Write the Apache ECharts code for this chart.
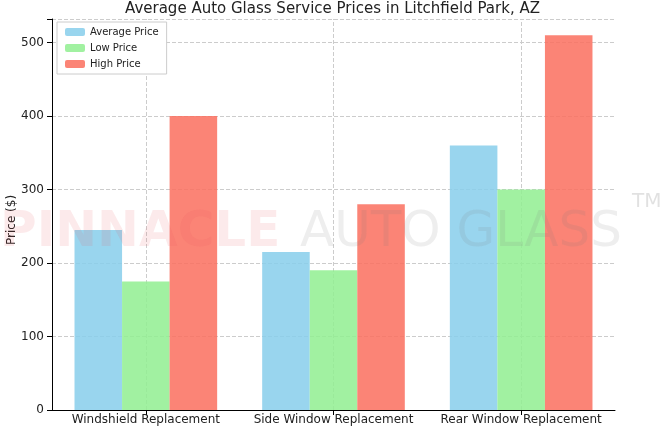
<!DOCTYPE html>
<html><head><meta charset="utf-8">
<script src="https://cdn.jsdelivr.net/npm/echarts@6/dist/echarts.min.js"></script>
<style>html,body{margin:0;padding:0;background:#fff}#c{width:665px;height:426px}</style>
</head><body><div id="c"></div>
<script>
// 各服务类别及三组价格
const categories = ['Windshield Replacement', 'Side Window Replacement', 'Rear Window Replacement'];
const avgPrice = [245, 215, 360];
const lowPrice = [175, 190, 300];
const highPrice = [400, 280, 510];
const yTicks = [0, 100, 200, 300, 400, 500];

const chart = echarts.init(document.getElementById('c'));
const font = 'DejaVu Sans';
const bar = (name, data, color) => ({
  name, type: 'bar', data, barGap: '0%', barCategoryGap: '24%', z: 3,
  itemStyle: { color, opacity: 0.85 }
});
const series = [bar('Average Price', avgPrice, '#87CEEB'), bar('Low Price', lowPrice, '#90EE90'), bar('High Price', highPrice, '#FA6F5E')];
// 竖向网格线：用空折线系列的 markLine 穿过每组中心
series.push({ type: 'line', name: '_grid', data: categories.map(() => null), z: 0, silent: true,
  markLine: { silent: true, symbol: 'none', label: { show: false }, z: 0,
    lineStyle: { type: 'dashed', color: '#ccc', width: 1 },
    data: categories.map(c => ({ xAxis: c })) } });

chart.setOption({
  textStyle: { fontFamily: font },
  title: { text: 'Average Auto Glass Service Prices in Litchfield Park, AZ', left: 'center', top: -3,
    textStyle: { fontFamily: font, fontSize: 15, fontWeight: 'normal', color: '#222' } },
  legend: { orient: 'vertical', left: 57, top: 22, itemWidth: 20, itemHeight: 8, itemGap: 6,
    data: ['Average Price', 'Low Price', 'High Price'],
    textStyle: { fontSize: 10, color: '#222' }, borderColor: '#ccc', borderWidth: 1, padding: [5, 8],
    backgroundColor: '#fff' },
  grid: { left: 52, right: 50, top: 19, bottom: 16, outerBoundsMode: 'none', containLabel: false },
  xAxis: { type: 'category', data: categories,
    axisLine: { lineStyle: { color: '#000' } }, axisTick: { show: true, alignWithLabel: true, lineStyle: { color: '#000' } },
    axisLabel: { color: '#222', fontSize: 12, interval: 0, margin: 4 },
    splitLine: { show: false } },
  yAxis: { type: 'value', min: 0, max: 532, interval: 100,
    axisLine: { show: true, lineStyle: { color: '#000' } }, axisTick: { show: true },
    axisLabel: { color: '#222', fontSize: 12, formatter: v => yTicks.includes(v) ? v : '' },
    splitLine: { lineStyle: { type: 'dashed', color: '#ccc' } } },
  graphic: [
    { type: 'text', x: 6, y: 245, rotation: Math.PI / 2, silent: true,
      style: { text: 'Price ($)', fontSize: 12, fill: '#222', fontFamily: font } },
    { type: 'text', left: 0, top: 208, z: 100, silent: true,
    style: { text: 'PINNACLE', fontSize: 50, fontWeight: 'bold', fill: 'rgba(230,80,90,0.12)', fontFamily: font } },
    { type: 'text', left: 300, top: 208, z: 100, silent: true,
    style: { text: 'AUTO GLASS', fontSize: 50, fill: 'rgba(120,120,120,0.13)', fontFamily: font } },
    { type: 'text', left: 632, top: 192, z: 100, silent: true,
    style: { text: 'TM', fontSize: 20, fill: 'rgba(120,120,120,0.22)', fontFamily: font } }],
  series
});
</script></body></html>
